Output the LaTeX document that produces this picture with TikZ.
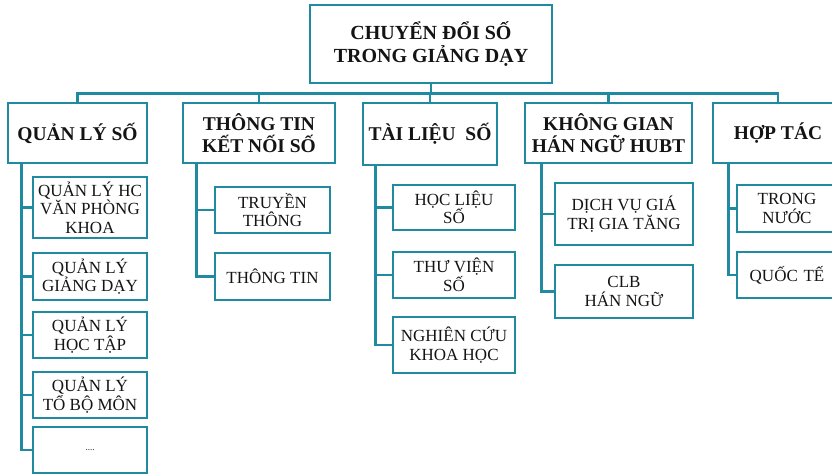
\documentclass[tikz,border=0pt]{standalone}
\usepackage{fontspec}
\setmainfont{Liberation Serif}
\definecolor{teal1}{HTML}{1F8AA0}
\definecolor{ink}{HTML}{141414}
\begin{document}
\begin{tikzpicture}[x=1pt,y=-1pt,
  box/.style={draw=teal1,line width=2.6pt,fill=white,inner sep=0pt,align=center,text=ink},
  topbox/.style={box,font=\fontsize{20}{23}\selectfont\bfseries},
  headbox/.style={box,font=\fontsize{19.5}{22}\selectfont\bfseries},
  kidbox/.style={box,font=\fontsize{17}{18.5}\selectfont},
  conn/.style={draw=teal1,line width=2.6pt}]
\clip (0,0) rectangle (832,475);
\fill[white] (0,0) rectangle (832,475);
\useasboundingbox (0,0) rectangle (832,475);

% top
\node[topbox,minimum width=242,minimum height=78] (top) at (431,44) {CHUYỂN ĐỔI SỐ\\TRONG GIẢNG DẠY};

% level 1
\node[headbox,minimum width=139,minimum height=60] (q) at (77.5,133) {QUẢN LÝ SỐ};
\node[headbox,minimum width=152,minimum height=60] (t) at (259,133) {THÔNG TIN\\KẾT NỐI SỐ};
\node[headbox,minimum width=134,minimum height=62] (tl) at (430,134) {TÀI LIỆU\ \ SỐ};
\node[headbox,minimum width=167,minimum height=60] (k) at (608.5,133) {KHÔNG GIAN\\HÁN NGỮ HUBT};
\node[headbox,minimum width=130,minimum height=60] (h) at (778,133) {HỢP TÁC};

\foreach \n in {q,t,tl,k,h}{
  \draw[conn] (top.south) -- ++(0,9) -| (\n.north);
}

% column q
\node[kidbox,minimum width=114,minimum height=61] (q1) at (90,207.5) {QUẢN LÝ HC\\VĂN PHÒNG\\KHOA};
\node[kidbox,minimum width=114,minimum height=47] (q2) at (90,276.5) {QUẢN LÝ\\GIẢNG DẠY};
\node[kidbox,minimum width=114,minimum height=46] (q3) at (90,335) {QUẢN LÝ\\HỌC TẬP};
\node[kidbox,minimum width=114,minimum height=46] (q4) at (90,395) {QUẢN LÝ\\TỔ BỘ MÔN};
\node[kidbox,minimum width=114,minimum height=46,font=\fontsize{9}{10}\selectfont] (q5) at (90,450) {....};
\foreach \c in {q1,q2,q3,q4,q5}{
  \draw[conn] ([xshift=15pt]q.south west) |- (\c.west);
}

% column t
\node[kidbox,minimum width=115,minimum height=46] (t1) at (272.5,210) {TRUYỀN\\THÔNG};
\node[kidbox,minimum width=115,minimum height=47] (t2) at (272.5,276.5) {THÔNG TIN};
\foreach \c in {t1,t2}{
  \draw[conn] ([xshift=15pt]t.south west) |- (\c.west);
}

% column tl
\node[kidbox,minimum width=122,minimum height=45] (l1) at (454,207.5) {HỌC LIỆU\\SỐ};
\node[kidbox,minimum width=122,minimum height=46] (l2) at (454,275) {THƯ VIỆN\\SỐ};
\node[kidbox,minimum width=122,minimum height=56] (l3) at (454,345) {NGHIÊN CỨU\\KHOA HỌC};
\foreach \c in {l1,l2,l3}{
  \draw[conn] ([xshift=14pt]tl.south west) |- (\c.west);
}

% column k
\node[kidbox,minimum width=138,minimum height=62] (k1) at (624,214) {DỊCH VỤ GIÁ\\TRỊ GIA TĂNG};
\node[kidbox,minimum width=138,minimum height=53] (k2) at (624,291.5) {CLB\\HÁN NGỮ};
\foreach \c in {k1,k2}{
  \draw[conn] ([xshift=18pt]k.south west) |- (\c.west);
}

% column h (boxes run past the right edge)
\node[kidbox,minimum width=110,minimum height=47,align=left,text width=110pt] (h1) at (792,208.5) {\makebox[100pt][c]{TRONG}\\\makebox[100pt][c]{NƯỚC}};
\node[kidbox,minimum width=110,minimum height=46,align=left,text width=110pt] (h2) at (792,275) {\makebox[100pt][c]{QUỐC TẾ}};
\foreach \c in {h1,h2}{
  \draw[conn] ([xshift=17pt]h.south west) |- (\c.west);
}
\end{tikzpicture}
\end{document}
